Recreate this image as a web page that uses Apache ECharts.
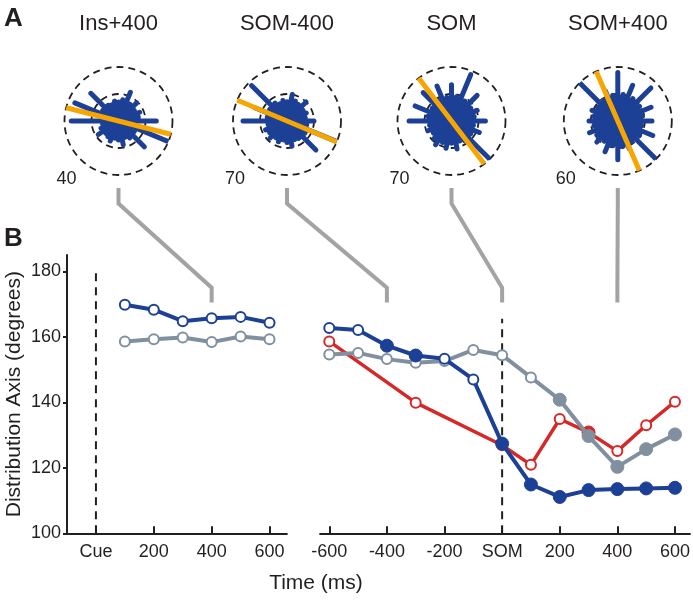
<!DOCTYPE html>
<html><head><meta charset="utf-8">
<script src="https://cdn.jsdelivr.net/npm/echarts@6/dist/echarts.min.js"></script>
<style>html,body{margin:0;padding:0;background:#fff}#c{width:693px;height:600px}</style>
</head><body><div id="c"></div>
<script>
const FONT = 'Liberation Sans, Arial, Helvetica, sans-serif';
const INK = '#231f20';
const BLUE = '#1c4096', GRAY = '#80909e', RED = '#d62828', ORANGE = '#f7a600', CONN = '#a3a3a3';

// ---- Panel B data ----
const leftTimes = [100, 200, 300, 400, 500, 600];
const leftBlue  = [169.8, 168.3, 164.8, 165.7, 166.1, 164.3];
const leftGray  = [158.6, 159.3, 159.8, 158.4, 160.1, 159.3];

const rightTimes = [-600, -500, -400, -300, -200, -100, 0, 100, 200, 300, 400, 500, 600];
const rightBlue  = [162.7, 162.1, 157.3, 154.3, 153.3, 147.0, 127.4, 114.9, 111.1, 113.2, 113.5, 113.7, 113.9];
const rightBlueFilled = [0, 0, 1, 1, 0, 0, 1, 1, 1, 1, 1, 1, 1];
const rightGray  = [154.6, 155.1, 153.2, 152.1, 152.6, 156.0, 154.4, 147.6, 140.8, 129.7, 120.3, 125.7, 130.2];
const rightGrayFilled = [0, 0, 0, 0, 0, 0, 0, 0, 1, 1, 1, 1, 1];
const redTimes = [-600, -300, 0, 100, 200, 300, 400, 500, 600];
const rightRed = [158.6, 139.9, 126.9, 120.9, 134.9, 130.8, 125.1, 133.0, 140.2];
const redFilled = [0, 0, 0, 0, 0, 1, 0, 0, 0];

const cueLine = [100, 180];
const somLine = [100, 165.5];

const leftTickValues = [0, 200, 400, 600];
const leftTickLabels = ['Cue', '200', '400', '600'];
const rightTickValues = [-600, -400, -200, 0, 200, 400, 600];
const rightTickLabels = ['-600', '-400', '-200', 'SOM', '200', '400', '600'];
const yTickValues = [100, 120, 140, 160, 180];

// ---- Panel A data (rose diagrams) ----
const roseTitles = ['Ins+400', 'SOM-400', 'SOM', 'SOM+400'];
const roseMax = [40, 70, 70, 60];
const rosePanel = [0, 1, 1, 1];
const roseTime = [400, -400, 0, 400];
const roseAngles = [0, 11.25, 22.5, 33.75, 45, 56.25, 67.5, 78.75, 90, 101.25, 112.5, 123.75,
  135, 146.25, 157.5, 168.75, 180, 191.25, 202.5, 213.75, 225, 236.25, 247.5, 258.75,
  270, 281.25, 292.5, 303.75, 315, 326.25, 337.5, 348.75];
const roseIns400 = [28, 15, 17, 14, 19, 15, 23, 16, 14, 15, 13, 14, 29, 14, 35, 13,
  35, 12, 14, 18, 13, 14, 16, 13, 14, 18, 13, 15, 27, 14, 44, 13];
const roseSomM400 = [35, 24, 27, 25, 35, 26, 28, 35, 25, 27, 24, 28, 65, 27, 45, 26,
  57, 25, 30, 27, 31, 26, 29, 25, 28, 33, 26, 27, 53, 28, 69, 26];
const roseSom = [44, 30, 36, 30, 47, 31, 65, 32, 47, 31, 49, 32, 52, 30, 51, 31,
  55, 29, 33, 28, 32, 37, 30, 36, 29, 37, 28, 31, 73, 30, 39, 29];
const roseSomP400 = [38, 28, 40, 29, 52, 30, 43, 30, 54, 29, 36, 28, 60, 27, 31, 27,
  32, 27, 34, 28, 33, 27, 37, 28, 43, 29, 33, 28, 59, 29, 42, 27];
const roseValues = [roseIns400, roseSomM400, roseSom, roseSomP400];

const centers = [[118.5, 121], [287, 121], [451.5, 121], [617.8, 121]];
const R = 54;

function axisAngle(i) {
  const t = roseTime[i];
  return rosePanel[i] === 0 ? leftBlue[leftTimes.indexOf(t)] : rightBlue[rightTimes.indexOf(t)];
}

function spokeData(vals) {
  const d = [];
  vals.forEach((v, k) => { d.push([0, roseAngles[k]], [v, roseAngles[k]], ['-', '-']); });
  return d;
}

function pts(xs, ys, filled, color) {
  return xs.map((x, i) => {
    const f = filled && filled[i];
    return {
      value: [x, ys[i]],
      symbolSize: f ? 13 : 10,
      itemStyle: f ? { color: color, borderColor: color, borderWidth: 1 }
                   : { color: '#fff', borderColor: color, borderWidth: 2 }
    };
  });
}

function lineSeries(gi, xs, ys, filled, color, width, z) {
  return {
    type: 'line', xAxisIndex: gi, yAxisIndex: gi, data: pts(xs, ys, filled, color),
    symbol: 'circle', lineStyle: { color: color, width: width }, z: z,
    animation: false, silent: true
  };
}

const chart = echarts.init(document.getElementById('c'), null, { renderer: 'canvas' });

const axisLineStyle = { color: INK, width: 2 };
const labelStyle = { fontSize: 18, color: INK, fontFamily: FONT };

const series = [];
// rose spokes + orange axes
roseValues.forEach((vals, i) => {
  series.push({
    type: 'line', coordinateSystem: 'polar', polarIndex: i, data: spokeData(vals),
    symbol: 'none', connectNulls: false, clip: false, silent: true, animation: false,
    lineStyle: { color: BLUE, width: 5, cap: 'round' }, z: 2
  });
  const a = axisAngle(i);
  const L = roseMax[i] * 1.5;
  series.push({
    type: 'line', coordinateSystem: 'polar', polarIndex: i,
    data: [[L, a], [0, a], [L, (a + 180) % 360]],
    symbol: 'none', clip: false, silent: true, animation: false,
    lineStyle: { color: ORANGE, width: 5, cap: 'round' }, z: 6
  });
});
// dashed event lines
series.push({
  type: 'line', xAxisIndex: 0, yAxisIndex: 0, data: [[0, cueLine[0]], [0, cueLine[1]]],
  symbol: 'none', silent: true, animation: false,
  lineStyle: { color: INK, width: 2, type: [8, 6] }, z: 1
});
series.push({
  type: 'line', xAxisIndex: 1, yAxisIndex: 1, data: [[0, somLine[0]], [0, somLine[1]]],
  symbol: 'none', silent: true, animation: false,
  lineStyle: { color: INK, width: 2, type: [8, 6] }, z: 1
});
series.push(lineSeries(0, leftTimes, leftGray, null, GRAY, 4, 3));
series.push(lineSeries(0, leftTimes, leftBlue, null, BLUE, 4, 4));
series.push(lineSeries(1, redTimes, rightRed, redFilled, RED, 3.5, 2));
series.push(lineSeries(1, rightTimes, rightGray, rightGrayFilled, GRAY, 4, 3));
series.push(lineSeries(1, rightTimes, rightBlue, rightBlueFilled, BLUE, 4, 4));

const option = {
  animation: false,
  backgroundColor: '#fff',
  grid: [
    { left: 67, top: 255, width: 219.9, height: 278.3 },
    { left: 320.05, top: 255, width: 371.3, height: 278.3 }
  ],
  xAxis: [
    {
      gridIndex: 0, type: 'value', min: -100, max: 660,
      axisLine: { onZero: false, lineStyle: axisLineStyle },
      axisTick: { inside: true, length: 7, lineStyle: axisLineStyle, customValues: leftTickValues },
      axisLabel: Object.assign({ customValues: leftTickValues, margin: 10,
        formatter: v => leftTickLabels[leftTickValues.indexOf(v)] }, labelStyle),
      splitLine: { show: false }
    },
    {
      gridIndex: 1, type: 'value', min: -632, max: 652,
      axisLine: { onZero: false, lineStyle: axisLineStyle },
      axisTick: { inside: true, length: 7, lineStyle: axisLineStyle, customValues: rightTickValues },
      axisLabel: Object.assign({ customValues: rightTickValues, margin: 10,
        formatter: v => rightTickLabels[rightTickValues.indexOf(v)] }, labelStyle),
      splitLine: { show: false }
    }
  ],
  yAxis: [
    {
      gridIndex: 0, type: 'value', min: 100, max: 185,
      axisLine: { show: true, onZero: false, lineStyle: axisLineStyle },
      axisTick: { show: true, length: 4, lineStyle: axisLineStyle, customValues: yTickValues },
      axisLabel: Object.assign({ customValues: yTickValues, margin: 6 }, labelStyle),
      splitLine: { show: false },
      name: 'Distribution Axis (degrees)', nameLocation: 'middle', nameGap: 42,
      nameTextStyle: { fontSize: 21, color: INK, fontFamily: FONT }
    },
    { gridIndex: 1, type: 'value', min: 100, max: 185, show: false }
  ],
  polar: centers.map(c => ({ center: c, radius: R })),
  angleAxis: roseMax.map((m, i) => ({
    polarIndex: i, type: 'value', min: 0, max: 360, startAngle: 0, clockwise: false, show: false
  })),
  radiusAxis: roseMax.map((m, i) => ({
    polarIndex: i, type: 'value', min: 0, max: m, interval: m / 2,
    axisLine: { show: false }, axisTick: { show: false }, axisLabel: { show: false },
    splitLine: { show: true, lineStyle: { type: [7, 5], color: INK, width: 1.8 } },
    z: 1
  })),
  series: series
};
chart.setOption(option);

// texts and connectors
const graphics = [];
graphics.push({ type: 'text', left: 4, top: 6, style: { text: 'A', font: 'bold 26px ' + FONT, fill: INK } });
graphics.push({ type: 'text', left: 4, top: 226, style: { text: 'B', font: 'bold 26px ' + FONT, fill: INK } });
roseTitles.forEach((t, i) => {
  graphics.push({ type: 'text', x: centers[i][0], y: 24,
    style: { text: t, font: '22px ' + FONT, fill: INK, align: 'center', verticalAlign: 'middle' } });
  graphics.push({ type: 'text', x: centers[i][0] - 52, y: centers[i][1] + 58,
    style: { text: String(roseMax[i]), font: '18px ' + FONT, fill: INK, align: 'center', verticalAlign: 'middle' } });
  const pTop = chart.convertToPixel({ gridIndex: rosePanel[i] }, [roseTime[i], 175]);
  const pBot = chart.convertToPixel({ gridIndex: rosePanel[i] }, [roseTime[i], 170.5]);
  const c = centers[i];
  graphics.push({ type: 'polyline', silent: true,
    shape: { points: [[c[0], c[1] + 67], [c[0], c[1] + 82.5], pTop, pBot] },
    style: { stroke: CONN, lineWidth: 4, fill: null, lineJoin: 'miter' } });
});
graphics.push({ type: 'text', x: 316, y: 583,
  style: { text: 'Time (ms)', font: '21px ' + FONT, fill: INK, align: 'center', verticalAlign: 'middle' } });
chart.setOption({ graphic: graphics });
</script>
</body></html>
